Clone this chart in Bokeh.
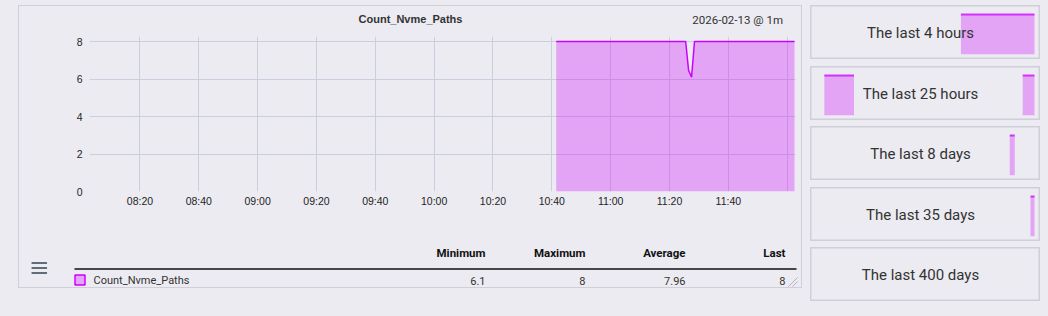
import pandas as pd
from bokeh.plotting import figure
from bokeh.models import Range1d, FixedTicker, DatetimeTickFormatter, Label
from bokeh.layouts import row, column
from bokeh.embed import file_html
from bokeh.resources import INLINE
from bokeh.core.properties import value

# ---------------- data ----------------
graph_title = "Count_Nvme_Paths"
graph_info = "2026-02-13 @ 1m"
day = "2026-02-13"
view_from = "08:02:50"
view_to = "12:02:50"
sample_start = "10:41:30"          # first 1-minute sample
nvme_paths = [
    8, 8, 8, 8, 8, 8, 8, 8, 8, 8,
    8, 8, 8, 8, 8, 8, 8, 8, 8, 8,
    8, 8, 8, 8, 8, 8, 8, 8, 8, 8,
    8, 8, 8, 8, 8, 8, 8, 8, 8, 8,
    8, 8, 8, 8, 8, 6.45, 6.1, 8, 8, 8,
    8, 8, 8, 8, 8, 8, 8, 8, 8, 8,
    8, 8, 8, 8, 8, 8, 8, 8, 8, 8,
    8, 8, 8, 8, 8, 8, 8, 8, 8, 8,
    8, 8,
]
y_ticks = [0, 2, 4, 6, 8]
x_tick_labels = ["08:20", "08:40", "09:00", "09:20", "09:40", "10:00",
                 "10:20", "10:40", "11:00", "11:20", "11:40"]
x_grid_times = x_tick_labels + ["12:00"]
stat_headers = ["Minimum", "Maximum", "Average", "Last"]

preview_now = "12:02:30"
preview_labels = ["The last 4 hours", "The last 25 hours", "The last 8 days",
                  "The last 35 days", "The last 400 days"]
preview_hours = [4, 25, 192, 840, 9600]
preview_block_from_h = [[1.35], [24.1, 1.35], [21.8], [15.4], []]   # hours before now
preview_block_to_h = [[0.0], [20.7, 0.0], [17.4], [0.0], []]
preview_block_value = [[8], [8, 8], [8], [8], []]

# ---------------- style ----------------
BG = "#ecebf1"
BORDER = "#cfcfdc"
GRID = "#c9cfdd"
LINE = "#cc00ff"
TXT = "#333333"

def ts(hm):
    return pd.Timestamp(f"{day} {hm}")

def ms(t):
    return t.value // 10**6

times = pd.date_range(ts(sample_start), periods=len(nvme_paths), freq="1min")

# ---------------- header ----------------
head = figure(width=782, height=30, x_range=Range1d(19, 801), y_range=Range1d(36, 6),
              x_axis_type=None, y_axis_type=None, title=None, toolbar_location=None,
              output_backend="svg", min_border=0, min_border_left=0, min_border_right=0,
              min_border_top=0, min_border_bottom=0, frame_align=False,
              background_fill_color=BG, border_fill_color=BG, outline_line_color=None)
head.grid.visible = False
head.text(x=[410], y=[18.5], text=[graph_title], text_font=value("Liberation Sans"),
          text_font_size="11px", text_font_style="bold", text_color=TXT,
          text_align="center", text_baseline="middle")
head.text(x=[782.5], y=[19], text=[graph_info], text_font=value("Roboto"),
          text_font_size="11.5px", text_color=TXT, text_align="right", text_baseline="middle")

# ---------------- chart ----------------
p = figure(width=782, height=194, x_axis_type="datetime",
           x_range=Range1d(ts(view_from), ts(view_to)), y_range=Range1d(0, 8.267),
           title=None, toolbar_location=None, output_backend="svg", frame_align=False,
           min_border_left=70, min_border_right=6, min_border_top=0, min_border_bottom=39,
           background_fill_color=BG, border_fill_color=BG, outline_line_color=None)
p.varea(x=times, y1=0, y2=nvme_paths, fill_color=LINE, fill_alpha=0.3)
p.line(x=times, y=nvme_paths, line_color=LINE, line_width=1.5)

p.xaxis.ticker = FixedTicker(ticks=[ms(ts(t)) for t in x_tick_labels])
fmt = "%H:%M"
p.xaxis.formatter = DatetimeTickFormatter(microseconds=fmt, milliseconds=fmt, seconds=fmt,
                                          minsec=fmt, minutes=fmt, hourmin=fmt, hours=fmt,
                                          days=fmt, months=fmt, years=fmt)
p.yaxis.ticker = FixedTicker(ticks=y_ticks)
p.xgrid.ticker = FixedTicker(ticks=[ms(ts(t)) for t in x_grid_times])
p.ygrid.ticker = FixedTicker(ticks=y_ticks)
for g in (p.xgrid, p.ygrid):
    g.grid_line_color = GRID
    g.grid_line_width = 1
for ax in (p.xaxis, p.yaxis):
    ax.axis_line_color = None
    ax.major_tick_line_color = None
    ax.minor_tick_line_color = None
    ax.major_tick_out = 0
    ax.major_tick_in = 0
    ax.major_label_text_font = "Liberation Sans"
    ax.major_label_text_font_size = "10.5px"
    ax.major_label_text_color = "#1e1e1e"
p.xaxis.major_label_standoff = 3
p.yaxis.major_label_standoff = 7

# ---------------- legend table ----------------
lg = figure(width=782, height=57, x_range=Range1d(19, 801), y_range=Range1d(287, 230),
            x_axis_type=None, y_axis_type=None, title=None, toolbar_location=None,
            output_backend="svg", min_border=0, min_border_left=0, min_border_right=0,
            min_border_top=0, min_border_bottom=0, frame_align=False,
            background_fill_color=BG, border_fill_color=BG, outline_line_color=None)
lg.grid.visible = False

def fmt_num(v):
    return f"{v:.2f}".rstrip("0").rstrip(".")

stats = [min(nvme_paths), max(nvme_paths), sum(nvme_paths) / len(nvme_paths), nvme_paths[-1]]
col_right = [485, 585, 685, 785]
lg.text(x=col_right, y=[252] * 4, text=stat_headers, text_font=value("Roboto"),
        text_font_size="11.5px", text_font_style="bold", text_color="#111111",
        text_align="right", text_baseline="middle")
lg.segment(x0=[74], y0=[268.5], x1=[796], y1=[268.5], line_color="#111111", line_width=1.3)
lg.quad(left=[74.5], right=[84.5], top=[274.5], bottom=[284.5], fill_color=LINE,
        fill_alpha=0.3, line_color=LINE, line_width=1.5)
lg.text(x=[93], y=[280], text=[graph_title], text_font=value("Roboto"), text_font_size="11px",
        text_color=TXT, text_align="left", text_baseline="middle")
lg.text(x=col_right, y=[280] * 4, text=[fmt_num(v) for v in stats], text_font=value("Roboto"),
        text_font_size="11px", text_color=TXT, text_align="right", text_baseline="middle")
lg.rect(x=[38.8] * 3, y=[262.5, 267.5, 272.5], width=15.5, height=2.2,
        fill_color="#5f6e78", line_color=None)
lg.segment(x0=[788, 792], y0=[286, 286], x1=[797, 797], y1=[277, 281],
           line_color="#b4b4c2", line_width=1)

left = column(head, p, lg, spacing=0, margin=(5, 0, 0, 18),
              styles={"border": f"1px solid {BORDER}", "background-color": BG})

# ---------------- preview buttons ----------------
now = ts(preview_now)
boxes = []
tops = [5, 66, 126, 187, 247]
prev_bottom = 0
for i, lab in enumerate(preview_labels):
    H = preview_hours[i]
    x0 = now - pd.Timedelta(hours=H * 224 / 218)
    x1 = now + pd.Timedelta(hours=H * 6 / 218)
    b = figure(width=230, height=54, x_axis_type=None, y_axis_type=None,
               x_range=Range1d(x0, x1), y_range=Range1d(-1.06, 9.8),
               title=None, toolbar_location=None, output_backend="svg",
               min_border=0, min_border_left=0, min_border_right=0,
               min_border_top=0, min_border_bottom=0, frame_align=False,
               background_fill_color=BG, border_fill_color=BG,
               outline_line_color=BORDER, outline_line_width=2)
    b.grid.visible = False
    lefts = [now - pd.Timedelta(hours=h) for h in preview_block_from_h[i]]
    rights = [now - pd.Timedelta(hours=h) for h in preview_block_to_h[i]]
    if lefts:
        b.quad(left=lefts, right=rights, bottom=0, top=preview_block_value[i],
               fill_color=LINE, fill_alpha=0.3, line_color=None)
        b.segment(x0=lefts, x1=rights, y0=preview_block_value[i], y1=preview_block_value[i],
                  line_color=LINE, line_width=2, line_alpha=0.75)
    b.add_layout(Label(x=110, y=27, x_units="screen", y_units="screen", text=lab,
                       text_font="Roboto", text_font_size="15px", text_color=TXT,
                       text_align="center", text_baseline="middle"))
    gap = tops[i] - prev_bottom
    b.margin = (gap, 0, 0, 0)
    prev_bottom = tops[i] + 54
    boxes.append(b)

right = column(*boxes, spacing=0, margin=(0, 0, 0, 8))

root = row(left, right, spacing=0, styles={"background-color": BG, "width": "1048px",
                                           "height": "316px"})

open("out.html", "w").write(file_html(root, INLINE))
